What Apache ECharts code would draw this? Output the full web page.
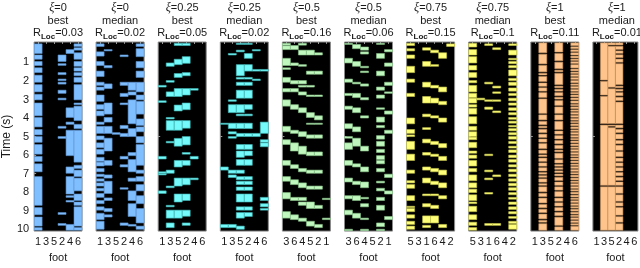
<!DOCTYPE html>
<html><head><meta charset="utf-8">
<script src="https://cdn.jsdelivr.net/npm/echarts@6/dist/echarts.min.js"></script>
<style>html,body{margin:0;padding:0;background:#fff}#c{width:640px;height:268px}</style>
</head><body><div id="c"></div>
<script>
// ---- labels ----
const xiValues = ['0','0','0.25','0.25','0.5','0.5','0.75','0.75','1','1'];
const runKinds = ['best','median','best','median','best','median','best','median','best','median'];
const rLocValues = ['0.03','0.02','0.05','0.02','0.16','0.06','0.15','0.1','0.11','0.01'];
const feetA = ['1','3','5','2','4','6'];
const feetB = ['3','6','4','5','2','1'];
const feetC = ['5','3','1','6','4','2'];
const footOrders = [feetA,feetA,feetA,feetA,feetB,feetB,feetC,feetC,feetA,feetA];
const yTicks = [1,2,3,4,5,6,7,8,9,10];
const timeRange = [-0.1, 10.1];

// ---- stance intervals [start, end] in seconds, one list per displayed foot column ----
const xi0Best = [
  [[0,0.52],[0.6,0.83],[0.95,1.17],[1.29,1.55],[1.69,2.07],[2.2,2.59],[2.72,3.02],[3.19,3.88],[3.97,4.48],[4.62,4.91],[5.0,5.31],[5.43,5.95],[6.07,6.34],[6.47,6.9],[7.16,8.71],[8.83,9.22],[9.34,9.83],[9.91,10.05]],
  [],
  [],
  [[0.6,0.95],[1.07,1.16],[1.55,1.66],[1.9,1.98],[2.07,2.17],[2.5,2.67],[2.93,3.02],[4.45,4.55],[5.0,5.1],[9.1,9.2],[9.69,9.79]],
  [[0.31,0.52],[3.45,3.97],[4.22,4.34],[4.66,6.03],[6.64,6.98],[7.16,8.1],[8.19,8.28],[8.45,8.53],[9.74,10.05]],
  [[0,0.14],[0.21,0.34],[0.48,0.83],[0.95,1.21],[1.29,1.47],[1.55,1.72],[1.81,2.07],[2.2,3.02],[3.19,3.28],[3.36,4.14],[4.34,4.57],[4.66,6.38],[6.55,6.72],[6.81,7.16],[7.24,7.93],[8.1,8.45],[8.53,8.71],[8.79,9.83],[9.91,10.05]]
];
const xi0Median = [
  [[0,0.14],[0.43,0.66],[0.95,1.17],[1.47,1.76],[2.07,2.24],[2.33,2.5],[2.76,3.1],[3.28,3.53],[3.62,3.88],[4.22,4.34],[4.45,4.83],[4.97,5.17],[5.34,5.6],[5.69,5.95],[6.12,6.34],[6.38,6.59],[6.72,6.9],[7.03,7.16],[7.28,7.41],[7.5,7.67],[7.79,7.93],[8.07,8.28],[8.45,8.62],[8.79,8.97],[9.14,9.48],[9.57,10.0]],
  [[0.31,0.38],[1.17,1.29],[2.16,2.41],[3.19,3.79],[3.97,4.22],[4.45,4.83],[5.09,5.78],[6.29,6.55],[7.07,7.24],[7.41,8.07],[8.31,8.45],[8.88,9.05],[9.22,9.34]],
  [[4.79,4.88]],
  [[0.6,0.69],[2.07,2.24],[2.67,2.84],[3.19,3.28],[4.4,4.57],[4.83,5.0],[6.07,6.21],[6.52,6.64],[7.76,7.84],[9.66,9.79]],
  [[2.07,2.5],[2.59,2.76],[3.02,4.31],[4.57,5.0],[5.86,6.03],[6.24,6.9],[7.24,7.41],[7.93,8.45],[8.62,9.31],[9.74,9.83]],
  [[0,0.14],[0.26,0.69],[0.95,1.29],[1.47,1.81],[2.07,2.59],[2.76,3.02],[3.1,3.79],[4.05,4.4],[4.48,4.74],[5.0,5.34],[5.43,6.55],[6.81,6.98],[7.16,7.41],[7.59,7.93],[8.19,8.62],[8.88,9.66],[9.83,10.0]]
];
const xi025Best = [
  [[2.24,2.33],[3.07,3.16],[6.07,6.21],[6.9,6.98],[7.0,7.07],[7.93,8.07]],
  [[1.03,1.21],[1.98,2.07],[2.59,2.84],[3.97,4.05],[4.14,4.66],[5.26,5.34],[6.81,6.98],[7.67,7.76],[8.71,8.79],[8.97,9.4],[9.66,9.91]],
  [[-0.03,0.09],[0.83,1.12],[1.6,1.81],[2.41,2.84],[3.3,3.62],[4.14,4.66],[5.1,5.52],[6.29,6.64],[7.24,7.67],[8.1,8.53],[8.97,9.4]],
  [[-0.03,0.09],[0.69,1.05],[1.55,1.72],[2.41,2.76],[3.19,3.55],[4.14,4.55],[5.0,5.45],[5.86,5.95],[6.29,6.55],[7.24,7.6],[8.1,8.45],[8.97,9.3],[9.66,9.79]],
  [[2.41,2.5],[6.07,6.21],[7.24,7.33]],
  []
];
const xi025Median = [
  [[4.28,4.34],[6.64,6.81],[9.74,9.91]],
  [[0.52,0.6],[3.02,3.1],[3.28,3.71],[4.28,4.57],[4.74,4.86],[5.0,5.09],[6.81,6.98],[7.07,7.21],[9.74,9.91]],
  [[-0.03,0.03],[0.34,0.43],[1.12,1.72],[1.81,1.9],[2.07,2.24],[2.5,2.93],[3.28,3.71],[3.79,3.88],[4.28,4.57],[4.83,5.0],[5.43,5.69],[5.78,6.12],[6.24,6.55],[6.81,6.98],[7.16,7.33],[7.41,7.59],[7.72,7.9],[8.1,8.53],[8.79,8.97],[9.1,9.4],[9.83,10.0]],
  [[-0.03,0.03],[0.52,0.78],[1.12,1.47],[1.81,1.9],[2.07,2.24],[2.5,2.93],[3.28,3.53],[3.79,3.88],[4.28,4.57],[4.83,5.0],[5.43,5.69],[5.78,6.03],[6.24,6.55],[7.16,7.33],[7.41,7.59],[7.72,7.9],[8.1,8.53],[8.79,8.97],[9.1,9.31]],
  [[0.31,0.38],[1.38,1.47],[1.9,1.98],[4.83,5.0]],
  [[1.38,1.47],[4.22,4.83],[5.17,5.31],[5.34,5.55],[8.28,8.45],[8.62,8.79],[8.88,8.97]]
];
const xi05Best = [
  [[-0.03,0.07],[0.1,0.31],[0.78,1.17],[1.29,1.38],[1.81,2.07],[2.41,2.59],[3.02,3.36],[4.45,4.74],[5.17,5.43],[6.29,6.55],[7.16,7.41],[8.02,8.36],[9.05,9.4]],
  [[0.09,0.31],[1.03,1.17],[1.98,2.16],[2.41,2.59],[3.28,3.53],[4.66,4.83],[5.34,5.78],[6.52,6.72],[7.33,7.59],[8.28,8.45],[9.22,9.48]],
  [[-0.03,0.07],[0.34,0.6],[1.12,1.21],[1.98,2.16],[2.24,2.33],[2.59,2.76],[3.45,3.71],[4.74,5.0],[5.52,5.95],[6.72,6.9],[7.5,7.76],[8.28,8.45],[8.53,8.71],[9.4,9.57]],
  [[0.34,0.6],[1.47,1.64],[2.24,2.33],[2.76,2.84],[3.71,3.97],[4.28,4.34],[4.91,5.09],[5.83,6.03],[6.81,6.98],[7.67,7.84],[8.53,8.88],[9.57,9.83]],
  [[0.48,0.6],[1.47,1.64],[2.76,2.84],[3.88,4.1],[4.28,4.34],[4.91,5.09],[5.83,6.03],[6.81,6.98],[7.67,7.84],[8.71,8.88],[9.74,9.91]],
  [[8.33,8.4],[9.4,9.48]]
];
const xi05Median = [
  [[-0.03,0.03],[0.78,1.03],[1.9,2.07],[2.67,2.79],[3.36,3.53],[4.31,4.57],[5.0,5.09],[5.34,5.69],[6.29,6.55],[7.24,7.45],[8.19,8.36],[8.97,9.22],[10.0,10.08]],
  [[0.03,0.26],[0.95,1.21],[2.07,2.16],[2.67,2.9],[3.45,3.71],[4.48,4.74],[5.09,5.52],[6.47,6.64],[7.41,7.59],[8.19,8.45],[9.14,9.4]],
  [[0.17,0.34],[0.43,0.55],[1.21,1.29],[1.47,1.55],[2.16,2.28],[2.9,3.02],[3.88,4.0],[5.52,5.78],[6.64,6.9],[7.45,7.76],[8.28,8.36],[8.62,8.79],[9.4,9.48],[10.0,10.08]],
  [],
  [[-0.03,0.03],[0.52,0.78],[1.47,1.72],[2.33,2.5],[2.76,2.93],[3.45,3.53],[3.95,4.22],[4.4,4.52],[4.95,5.14],[5.26,5.52],[5.69,5.86],[6.03,6.24],[6.29,6.47],[6.72,6.9],[7.41,7.5],[7.79,7.93],[8.28,8.45],[8.71,8.97],[9.66,9.86],[10.0,10.08]],
  [[0.31,0.43],[1.03,1.21],[2.07,2.24],[2.59,2.67],[3.62,3.79],[4.66,4.83],[7.03,7.21],[7.93,8.1],[9.31,9.48]]
];
const xi075Best = [
  [[-0.03,0.09],[0.26,0.38],[0.6,0.78],[1.21,1.55],[1.9,2.07],[2.67,2.84],[4.0,4.31],[4.62,4.83],[4.91,5.0],[5.26,5.69],[5.95,6.29],[6.81,6.98],[7.38,7.5],[7.59,7.79],[8.19,8.45],[8.76,8.83],[8.88,9.05],[9.22,9.4],[9.57,9.74],[9.83,10.0]],
  [],
  [[0.21,0.34],[0.95,1.21],[2.07,2.33],[2.84,3.19],[3.79,3.93],[4.52,4.62],[5.14,5.34],[5.86,6.0],[6.64,6.81],[7.24,7.5],[8.1,8.19],[8.62,8.79],[9.28,9.66],[9.79,9.91]],
  [[0.34,0.48],[1.12,1.21],[2.24,2.38],[2.93,3.19],[3.88,4.0],[5.26,5.43],[5.95,6.07],[6.72,6.9],[7.41,7.59],[8.1,8.19],[8.71,8.88],[9.28,9.66]],
  [[0.48,0.78],[2.33,2.59],[3.1,3.28],[4.0,4.22],[5.38,5.6],[6.07,6.29],[6.81,7.07],[7.5,7.76],[8.19,8.36],[9.74,9.91]],
  [[0,0.14]]
];
const xi075Median = [
  [[-0.03,0.17],[0.31,0.6],[0.69,1.03],[1.17,1.41],[1.55,1.81],[1.98,2.1],[2.24,2.59],[2.67,2.9],[2.93,3.19],[3.28,3.41],[3.48,3.79],[3.93,4.31],[4.45,4.66],[4.74,5.0],[5.03,5.17],[5.31,5.6],[5.78,5.9],[6.0,6.17],[6.29,6.59],[6.72,6.9],[7.07,7.38],[7.5,7.76],[7.84,8.02],[8.14,8.45],[8.53,8.62],[8.76,9.05],[9.22,9.48],[9.62,9.79],[9.91,10.05]],
  [[2.93,3.02]],
  [[0,0.09],[2.07,2.16],[3.02,3.1],[3.41,3.53],[5.95,6.03],[6.81,6.9],[7.24,7.33],[8.02,8.1],[9.69,9.79]],
  [[0.21,0.31],[2.28,2.38],[2.59,2.67],[3.02,3.1],[3.62,3.71],[7.07,7.16],[9.69,9.79]],
  [],
  [[0,0.09],[0.34,0.6],[0.78,0.86],[0.95,1.07],[1.17,1.29],[1.41,1.72],[1.86,1.98],[2.07,2.24],[2.38,2.55],[2.67,2.79],[2.93,3.07],[3.19,3.31],[3.45,3.59],[3.71,3.83],[3.97,4.07],[4.17,4.28],[4.4,4.48],[4.57,4.69],[4.79,4.91],[5.0,5.14],[5.26,5.38],[5.52,5.62],[5.72,5.86],[6.0,6.14],[6.24,6.38],[6.52,6.64],[6.76,6.9],[7.03,7.16],[7.28,7.41],[7.52,7.66],[7.76,7.9],[8.02,8.14],[8.28,8.38],[8.53,8.66],[8.79,8.93],[9.05,9.17],[9.31,9.41],[9.57,9.69],[9.74,10.0]]
];
const xi1Best = [
  [],
  [[-0.05,0.48],[0.56,1.08],[1.16,1.51],[1.59,1.68],[1.76,2.03],[2.11,2.29],[2.37,2.55],[2.63,2.89],[2.97,3.75],[3.83,4.1],[4.18,4.36],[4.44,4.53],[4.61,4.79],[4.87,5.05],[5.13,5.3],[5.38,5.65],[5.73,5.91],[5.99,6.08],[6.16,6.34],[6.42,6.6],[6.68,6.86],[6.94,7.03],[7.11,7.2],[7.28,7.46],[7.54,7.63],[7.71,7.98],[8.06,8.24],[8.32,8.58],[8.66,8.84],[8.92,9.1],[9.18,9.44],[9.52,9.62],[9.7,10.05]],
  [],
  [[-0.05,0.44],[0.52,0.91],[0.99,1.34],[1.42,1.51],[1.59,2.2],[2.28,2.37],[2.45,2.55],[2.63,2.8],[2.88,2.98],[3.06,3.32],[3.4,3.75],[3.83,4.1],[4.18,4.62],[4.7,4.87],[4.95,5.13],[5.21,5.39],[5.47,5.65],[5.73,5.82],[5.9,6.17],[6.25,6.43],[6.51,6.6],[6.68,6.77],[6.85,6.94],[7.02,7.12],[7.2,7.37],[7.45,7.63],[7.71,7.89],[7.97,8.24],[8.32,8.49],[8.57,8.75],[8.83,9.01],[9.09,9.27],[9.35,9.79],[9.87,10.05]],
  [],
  [[-0.05,0.1],[0.16,0.26],[0.32,0.42],[0.48,0.6],[0.66,0.76],[0.82,0.9],[0.96,1.06],[1.12,1.3],[1.36,1.46],[1.52,1.6],[1.66,1.76],[1.82,1.92],[1.98,2.1],[2.16,2.24],[2.3,2.4],[2.46,2.56],[2.62,2.7],[2.76,2.86],[2.92,3.02],[3.08,3.2],[3.26,3.34],[3.4,3.5],[3.56,3.64],[3.7,3.8],[3.86,3.96],[4.02,4.12],[4.18,4.26],[4.32,4.42],[4.48,4.58],[4.64,4.72],[4.78,4.88],[4.94,5.04],[5.1,5.18],[5.24,5.34],[5.4,5.5],[5.56,5.64],[5.7,5.8],[5.86,5.96],[6.02,6.1],[6.16,6.26],[6.32,6.42],[6.48,6.56],[6.62,6.72],[6.78,6.88],[6.94,7.02],[7.08,7.18],[7.24,7.34],[7.4,7.48],[7.54,7.64],[7.7,7.8],[7.86,7.94],[8.0,8.1],[8.16,8.26],[8.32,8.4],[8.46,8.56],[8.62,8.72],[8.78,8.86],[8.92,9.02],[9.08,9.18],[9.24,9.32],[9.38,9.48],[9.54,9.64],[9.7,9.78],[9.84,10.05]]
];
const xi1Median = [
  [],
  [[-0.05,1.95],[2.02,2.76],[2.83,4.3],[4.38,7.63],[7.71,10.05]],
  [[-0.05,0.06],[0.13,2.34],[2.42,4.3],[4.38,4.44],[4.52,7.63],[7.71,10.05]],
  [[-0.05,0.06],[0.13,0.3],[0.38,0.51],[0.59,0.74],[0.82,0.99],[1.07,2.2],[2.28,2.37],[2.45,2.55],[2.63,2.8],[2.88,3.06],[3.14,4.3],[4.38,4.53],[4.61,4.79],[4.87,5.13],[5.21,5.39],[5.47,5.74],[5.82,6.08],[6.16,6.34],[6.42,6.6],[6.68,6.86],[6.94,7.12],[7.2,7.37],[7.45,7.63],[7.71,8.06],[8.14,8.49],[8.57,8.75],[8.83,9.24],[9.32,9.62],[9.7,10.05]],
  [],
  []
];
const panelData = [xi0Best, xi0Median, xi025Best, xi025Median, xi05Best, xi05Median, xi075Best, xi075Median, xi1Best, xi1Median];

// ---- styling ----
const palette = {
  '0':    {fill:'#80bfff', edge:'#5b90cc'},
  '0.25': {fill:'#74fafa', edge:'#3fb5b5'},
  '0.5':  {fill:'#bff7bf', edge:'#86c086'},
  '0.75': {fill:'#ffff7a', edge:'#c4c44a'},
  '1':    {fill:'#ffc48c', edge:'#c4915e'}
};
const FONT = '"Liberation Sans", Arial, Helvetica, sans-serif';
const TXT = '#1a1a1a';
const GRID_LEFT0 = 34, GRID_STEP = 62.1, GRID_W = 48, GRID_TOP = 42, GRID_H = 197;

const chart = echarts.init(document.getElementById('c'), null, {renderer:'canvas'});
const grids = [], xAxes = [], yAxes = [], series = [], titles = [];

panelData.forEach((cols, i) => {
  const left = GRID_LEFT0 + GRID_STEP * i;
  grids.push({left: left, top: GRID_TOP, width: GRID_W, height: GRID_H, show: true,
    backgroundColor: '#000', borderColor: '#8a8a8a', borderWidth: 1, containLabel: false});
  xAxes.push({type:'category', gridIndex:i, data: footOrders[i], position:'bottom',
    axisLine:{show:false}, axisTick:{show:true, inside:true, length:2, alignWithLabel:true, lineStyle:{color:'#9a9a9a'}},
    axisLabel:{show:true, interval:0, margin:5, fontSize:11, color:TXT, fontFamily:FONT},
    name:'foot', nameLocation:'middle', nameGap:16, nameTextStyle:{fontSize:11, color:TXT, fontFamily:FONT}});
  xAxes.push({type:'category', gridIndex:i, data: footOrders[i], position:'top',
    axisLine:{show:false}, axisTick:{show:true, inside:true, length:2, alignWithLabel:true, lineStyle:{color:'#9a9a9a'}},
    axisLabel:{show:false}});
  const y = {type:'value', gridIndex:i, inverse:true, min: timeRange[0], max: timeRange[1],
    axisLine:{show:false}, splitLine:{show:false},
    axisTick:{show:true, inside:true, length:2, customValues: i === 0 ? yTicks : [5], lineStyle:{color:'#9a9a9a'}},
    axisLabel:{show: i === 0, customValues: yTicks, margin:5, fontSize:11, color:TXT, fontFamily:FONT}};
  if (i === 0) {
    y.name = 'Time (s)'; y.nameLocation = 'middle'; y.nameGap = 18;
    y.nameTextStyle = {fontSize:12, color:TXT, fontFamily:FONT};
  }
  yAxes.push(y);

  const pal = palette[xiValues[i]];
  const data = [];
  cols.forEach((ivs, c) => ivs.forEach(iv => data.push([c, iv[0], iv[1]])));
  series.push({type:'custom', xAxisIndex: 2*i, yAxisIndex: i, data: data,
    encode:{x:0, y:[1,2]}, silent:true, animation:false, clip:true,
    renderItem: function(params, api) {
      const c = api.value(0);
      const p0 = api.coord([c, api.value(1)]);
      const p1 = api.coord([c, api.value(2)]);
      const w = api.size([1, 0])[0];
      const cs = params.coordSys;
      const r = echarts.graphic.clipRectByRect(
        {x: p0[0] - w/2, y: Math.min(p0[1], p1[1]), width: w, height: Math.abs(p1[1] - p0[1])},
        {x: cs.x, y: cs.y, width: cs.width, height: cs.height});
      if (!r) return null;
      return {type:'rect', shape:r, style:{fill: pal.fill, stroke: pal.edge, lineWidth: 0.6}};
    }});

  titles.push({text: '{xi|ξ}=' + xiValues[i] + '\n' + runKinds[i] + '\nR{sub|Loc}=' + rLocValues[i],
    left: left + GRID_W/2, top: 2, textAlign:'center', padding:0,
    textStyle:{fontSize:11, lineHeight:12.5, fontWeight:'normal', color:TXT, fontFamily:FONT,
      rich:{xi:{fontSize:12, fontStyle:'italic', fontFamily:'"Liberation Serif", "DejaVu Serif", serif', color:TXT},
            sub:{fontSize:8, fontWeight:'bold', padding:[7,0,0,0], color:TXT, fontFamily:FONT}}}});
});

chart.setOption({animation:false, backgroundColor:'#fff', title: titles, grid: grids, xAxis: xAxes, yAxis: yAxes, series: series});
</script></body></html>
